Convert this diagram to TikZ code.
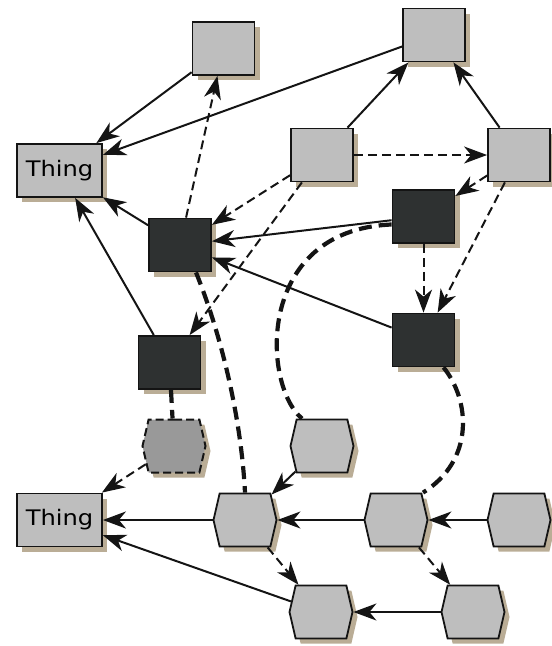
\documentclass[tikz,border=0pt]{standalone}
\usepackage{fontspec}
\newfontfamily\thingfont{DejaVu Sans}
\usetikzlibrary{arrows.meta,shapes.symbols,shadows}
\definecolor{boxgray}{RGB}{190,190,190}
\definecolor{darkbox}{RGB}{46,49,49}
\definecolor{hexdash}{RGB}{153,153,153}
\definecolor{shadowc}{RGB}{186,173,150}
\definecolor{edgec}{RGB}{20,20,20}
\begin{document}
\begin{tikzpicture}[x=1pt,y=-1pt,
 base/.style={draw=edgec, line width=1.8pt, inner sep=0pt,
   drop shadow={shadow xshift=5pt, shadow yshift=-5pt, opacity=1, fill=shadowc}},
 lbox/.style={base, rectangle, fill=boxgray, minimum width=62pt, minimum height=53pt},
 dbox/.style={base, rectangle, fill=darkbox, minimum width=62pt, minimum height=53pt},
 thing/.style={base, rectangle, fill=boxgray, minimum width=85pt, minimum height=53pt,
   font=\thingfont\fontsize{21.4}{24}\selectfont},
 hex/.style={base, signal, signal to=east and west, signal pointer angle=154,
   fill=boxgray, minimum width=63pt, minimum height=53pt},
 hexd/.style={hex, fill=hexdash, line width=2pt, dash pattern=on 8pt off 4pt},
 arr/.style={-{Stealth[length=23pt,width=17pt,inset=7pt]}, line width=2pt, draw=edgec},
 darr/.style={arr, dash pattern=on 9pt off 5pt},
 tlink/.style={line width=4.2pt, dash pattern=on 13pt off 7pt, draw=edgec}
]
\useasboundingbox (0,0) rectangle (552,646);

\node[lbox] (A) at (223.5,48.5) {};
\node[lbox] (B) at (434,35) {};
\node[thing] (T1) at (59.5,170.5) {\scalebox{1.13}[1]{Thing}};
\node[lbox] (C) at (322,155) {};
\node[lbox] (D) at (519,155) {};
\node[dbox] (E) at (423.5,216.5) {};
\node[dbox] (F) at (180,245) {};
\node[dbox] (G) at (169.5,362.5) {};
\node[dbox] (H) at (423.5,340) {};
\node[hexd] (I) at (174,446) {};
\node[hex] (J) at (322,446) {};
\node[thing] (T2) at (59.5,520) {\scalebox{1.13}[1]{Thing}};
\node[hex] (K) at (245,520) {};
\node[hex] (L) at (396,520) {};
\node[hex] (M) at (519,520) {};
\node[hex] (N) at (321,612) {};
\node[hex] (O) at (473,612) {};

\draw[arr] (A) -- (T1);
\draw[arr] (B) -- (T1);
\draw[arr] (C) -- (B);
\draw[arr] (D) -- (B);
\draw[darr] (C) -- (D);
\draw[darr] (D) -- (E);
\draw[darr] (D) -- (H);
\draw[darr] (E) -- (H);
\draw[darr] (C) -- (F);
\draw[darr] (C) -- (G);
\draw[darr] (F) -- (A);
\draw[arr] (F) -- (T1);
\draw[arr] (G) -- (T1);
\draw[arr] (E) -- (F);
\draw[arr] (H) -- (F);
\draw[tlink] (G) -- (I);
\draw[darr] (I) -- (T2);
\draw[tlink] ([xshift=16pt]F.south) .. controls (224,342) and (241.5,424) .. (K.north);
\draw[tlink] ([yshift=-8pt]E.west) .. controls (255,230) and (262,385) .. ([xshift=-20pt]J.north);
\draw[tlink] ([xshift=20pt]H.south) .. controls (470,400) and (475,460) .. ([xshift=27pt]L.north);
\draw[arr] (J) -- (K);
\draw[arr] (K) -- (T2);
\draw[arr] (L) -- (K);
\draw[arr] (M) -- (L);
\draw[darr] (K) -- (N);
\draw[darr] (L) -- (O);
\draw[arr] (O) -- (N);
\draw[arr] (N) -- (T2);
\end{tikzpicture}
\end{document}
